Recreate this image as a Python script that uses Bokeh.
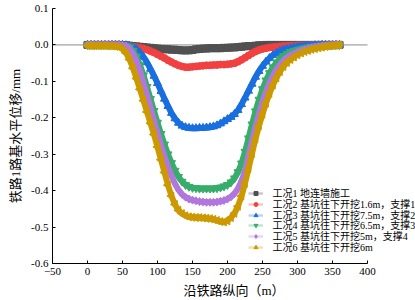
from bokeh.plotting import figure
from bokeh.models import Range1d, FixedTicker, PrintfTickFormatter, Legend, LegendItem, Label
from bokeh.embed import file_html
from bokeh.resources import INLINE

# ---- data ----
x_m = list(range(0, 365, 5))

s1 = [0, 0, 0, 0, 0, 0, 0, 0, 0, 0,
      -0.001, -0.001, -0.002, -0.003, -0.004, -0.005, -0.006, -0.007, -0.008, -0.009,
      -0.010, -0.011, -0.012, -0.012, -0.013, -0.013, -0.014, -0.015, -0.015, -0.015,
      -0.014, -0.012, -0.011, -0.010, -0.010, -0.009, -0.009, -0.009, -0.009, -0.008,
      -0.008, -0.007, -0.007, -0.006, -0.005, -0.004, -0.003, -0.003, -0.002, -0.001,
      -0.001, 0, 0, 0, 0, 0, 0, 0, 0, 0,
      0, 0, 0, 0, 0, 0, 0, 0, 0, 0,
      0, 0, 0]

s2 = [0, 0, 0, 0, 0, 0, 0, 0, 0, 0,
      -0.001, -0.002, -0.003, -0.004, -0.006, -0.008, -0.010, -0.013, -0.017, -0.021,
      -0.026, -0.031, -0.036, -0.042, -0.047, -0.052, -0.056, -0.059, -0.061, -0.061,
      -0.060, -0.059, -0.058, -0.057, -0.056, -0.056, -0.055, -0.055, -0.054, -0.054,
      -0.053, -0.052, -0.050, -0.046, -0.041, -0.035, -0.029, -0.023, -0.018, -0.014,
      -0.011, -0.009, -0.007, -0.006, -0.005, -0.004, -0.003, -0.003, -0.002, -0.002,
      -0.001, -0.001, -0.001, -0.001, 0, 0, 0, 0, 0, 0,
      0, 0, 0]

s3 = [0, 0, 0, 0, 0, 0, 0, 0, 0, 0,
      0, -0.001, -0.003, -0.006, -0.012, -0.021, -0.033, -0.048, -0.066, -0.085,
      -0.105, -0.127, -0.148, -0.168, -0.187, -0.202, -0.214, -0.222, -0.226, -0.228,
      -0.229, -0.229, -0.228, -0.228, -0.227, -0.226, -0.224, -0.221, -0.216, -0.210,
      -0.204, -0.198, -0.190, -0.179, -0.163, -0.145, -0.126, -0.107, -0.088, -0.072,
      -0.058, -0.046, -0.036, -0.028, -0.022, -0.017, -0.013, -0.011, -0.009, -0.007,
      -0.005, -0.004, -0.003, -0.002, -0.002, -0.001, -0.001, 0, 0, 0,
      0, 0, 0]

s4 = [0, 0, 0, 0, 0, 0, 0, 0, 0, 0,
      0, -0.002, -0.006, -0.016, -0.032, -0.055, -0.083, -0.115, -0.148, -0.181,
      -0.213, -0.244, -0.273, -0.300, -0.324, -0.345, -0.362, -0.375, -0.384, -0.389,
      -0.392, -0.393, -0.394, -0.394, -0.394, -0.394, -0.394, -0.393, -0.391, -0.388,
      -0.384, -0.377, -0.366, -0.349, -0.325, -0.293, -0.256, -0.218, -0.182, -0.150,
      -0.121, -0.097, -0.077, -0.061, -0.048, -0.038, -0.030, -0.024, -0.019, -0.016,
      -0.014, -0.011, -0.009, -0.007, -0.005, -0.004, -0.003, -0.002, -0.001, -0.001,
      0, 0, 0]

s5 = [0, 0, 0, 0, 0, 0, 0, 0, 0, 0,
      -0.001, -0.003, -0.010, -0.024, -0.045, -0.072, -0.104, -0.138, -0.173, -0.208,
      -0.242, -0.275, -0.306, -0.335, -0.360, -0.381, -0.398, -0.410, -0.418, -0.423,
      -0.426, -0.428, -0.430, -0.431, -0.432, -0.432, -0.432, -0.431, -0.429, -0.427,
      -0.423, -0.417, -0.408, -0.394, -0.373, -0.346, -0.304, -0.264, -0.225, -0.189,
      -0.157, -0.128, -0.104, -0.084, -0.067, -0.054, -0.043, -0.035, -0.029, -0.024,
      -0.020, -0.016, -0.013, -0.010, -0.008, -0.006, -0.004, -0.003, -0.002, -0.001,
      0, 0, 0]

s6 = [-0.002, -0.002, -0.002, -0.002, -0.002, -0.002, -0.003, -0.003, -0.004, -0.006,
      -0.011, -0.022, -0.040, -0.064, -0.092, -0.122, -0.153, -0.184, -0.215, -0.246,
      -0.280, -0.315, -0.350, -0.385, -0.415, -0.438, -0.454, -0.463, -0.469, -0.472,
      -0.473, -0.474, -0.474, -0.475, -0.476, -0.477, -0.479, -0.482, -0.485, -0.486,
      -0.483, -0.474, -0.462, -0.443, -0.415, -0.380, -0.340, -0.298, -0.258, -0.222,
      -0.190, -0.160, -0.133, -0.110, -0.090, -0.073, -0.059, -0.048, -0.040, -0.033,
      -0.027, -0.022, -0.018, -0.015, -0.012, -0.010, -0.008, -0.006, -0.004, -0.003,
      -0.002, -0.001, 0]

labels = ["工况1 地连墙施工",
          "工况2 基坑往下开挖1.6m，支撑1",
          "工况3 基坑往下开挖7.5m，支撑2",
          "工况4 基坑往下开挖6.5m，支撑3",
          "工况5 基坑往下开挖5m，支撑4",
          "工况6 基坑往下开挖6m"]
colors = ["#515151", "#F14040", "#1A6FDF", "#37AD6B", "#B177DE", "#CC9900"]
markers = ["square", "circle", "triangle", "inverted_triangle", "diamond", "triangle"]
angles = [0, 0, 0, 0, 0, 1.5708]
sizes = [7, 7, 8, 8, 8, 8]

x_ticks = [-50, 0, 50, 100, 150, 200, 250, 300, 350, 400]
y_ticks = [-0.6, -0.5, -0.4, -0.3, -0.2, -0.1, 0.0, 0.1]

FONT = "Liberation Serif, Noto Sans CJK SC"

# frame runs to the right canvas edge so the legend text is not clipped;
# the x axis itself is bounded to -50..400 (same 0.7 px per metre scale)
x_extra = 48 / 0.7
p = figure(width=415, height=300, output_backend="svg", toolbar_location=None,
           x_range=Range1d(x_ticks[0], x_ticks[-1] + x_extra), y_range=Range1d(-0.6, 0.1),
           min_border_left=52, min_border_right=0, min_border_top=8, min_border_bottom=37)
p.outline_line_color = None
p.xgrid.visible = False
p.ygrid.visible = False
p.background_fill_color = "white"
p.border_fill_color = "white"

# zero reference line across the axis extent
p.line([x_ticks[0], x_ticks[-1]], [0, 0], line_color="#8c8c8c", line_width=1)

series = [s1, s2, s3, s4, s5, s6]
for i, (s, lab, c, m, a, sz) in enumerate(zip(series, labels, colors, markers, angles, sizes)):
    r_pale = p.line(x_m, s, line_color=c, line_width=2.5, line_alpha=0.3)
    p.line(x_m, s, line_color=c, line_width=6, line_join="round", line_cap="round")
    r_pts = p.scatter(x_m, s, marker=m, size=sz, angle=a, fill_color=c, line_color=c)
    row_y = 69.7 - 10.7 * i          # legend row centre, px above the frame bottom
    p.add_layout(Legend(items=[LegendItem(label="", renderers=[r_pale, r_pts])],
                        location=(196, row_y - 5), padding=0, margin=0, spacing=0,
                        label_text_font_size="1px", label_height=10, label_width=1,
                        glyph_height=10, glyph_width=15, label_standoff=0,
                        background_fill_alpha=0, border_line_alpha=0))
    p.add_layout(Label(x=220, y=row_y, x_units="screen", y_units="screen", text=lab,
                       text_font=FONT, text_font_size="10px", text_baseline="middle",
                       text_align="left", text_color="black"))

for ax in (p.xaxis[0], p.yaxis[0]):
    ax.major_tick_in = 3
    ax.major_tick_out = 0
    ax.minor_tick_in = 0
    ax.minor_tick_out = 0
    ax.axis_line_color = "black"
    ax.major_tick_line_color = "black"
    ax.major_label_text_font = FONT
    ax.major_label_text_font_size = "11px"
    ax.major_label_text_color = "black"
    ax.axis_label_text_font = FONT
    ax.axis_label_text_font_size = "13px"
    ax.axis_label_text_font_style = "normal"
    ax.axis_label_text_color = "black"
    ax.major_label_standoff = 4
    ax.axis_label_standoff = 5

p.xaxis.bounds = (x_ticks[0], x_ticks[-1])
p.xaxis.ticker = FixedTicker(ticks=x_ticks)
p.yaxis.ticker = FixedTicker(ticks=y_ticks)
p.yaxis.formatter = PrintfTickFormatter(format="%.1f")
p.xaxis.axis_label = "沿铁路纵向（m）"
p.yaxis.axis_label = "铁路1路基水平位移/mm"

open("out.html", "w").write(file_html(p, INLINE))
